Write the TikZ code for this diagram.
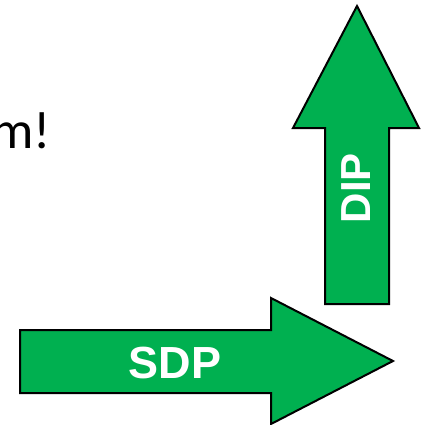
\documentclass[tikz,border=0pt]{standalone}
\usepackage{fontspec}
\setmainfont{Liberation Sans}
\newfontfamily\calibfont{Carlito}
\usepackage{tikz}
\definecolor{arrowgreen}{RGB}{0,176,80}

\begin{document}
\begin{tikzpicture}[x=1pt,y=-1pt,
	bigarrow/.style={draw=black,line width=2pt,fill=arrowgreen,line join=miter},
	arrowlabel/.style={text=white,inner sep=0pt,font=\fontsize{45}{45}\selectfont\bfseries}]
	\useasboundingbox (0,0) rectangle (424,425);
	\node[anchor=base east,inner sep=0pt,font=\calibfont\fontsize{53}{53}\selectfont] (shout) at (51,148) {m!};
	% up arrow
	\draw[bigarrow] (357,6) -- (419,128) -- (389,128) -- (389,304) -- (325,304) -- (325,128) -- (293,128) -- cycle;
	\node[arrowlabel,rotate=90,font=\fontsize{42}{42}\selectfont\bfseries] (dip) at (356,188) {DIP};
	% right arrow
	\draw[bigarrow] (20,330) -- (271,330) -- (271,298) -- (393,361) -- (271,424) -- (271,393) -- (20,393) -- cycle;
	\node[arrowlabel] (sdp) at (175,363) {SDP};
\end{tikzpicture}
\end{document}
